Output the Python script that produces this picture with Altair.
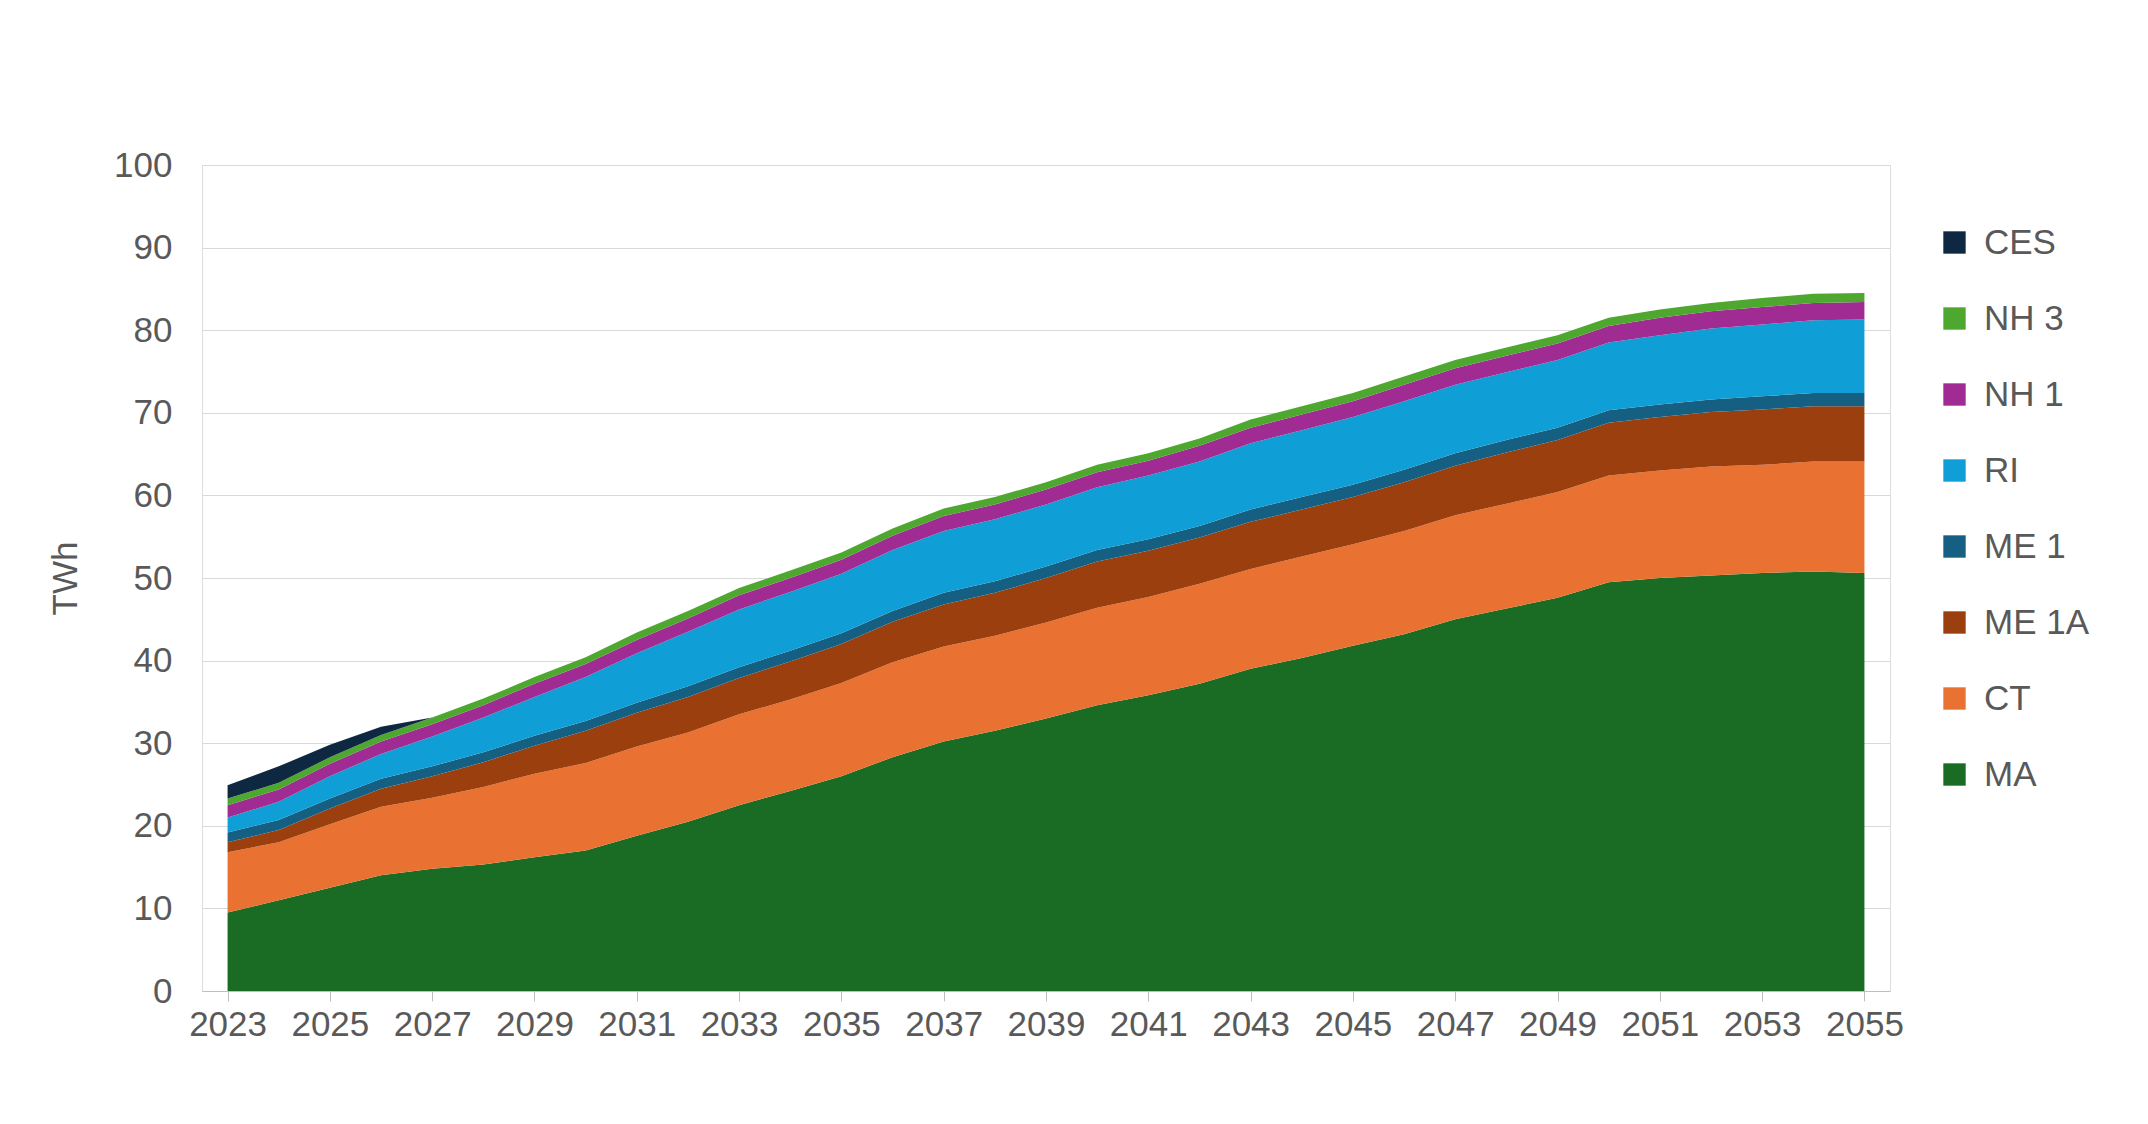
import pandas as pd
import altair as alt

years = list(range(2023, 2056))

ma = [9.5, 11, 12.5, 14, 14.8, 15.3, 16.2, 17, 18.8, 20.5, 22.5, 24.2, 26, 28.3, 30.2, 31.5, 33,
      34.6, 35.8, 37.2, 39, 40.3, 41.8, 43.2, 45, 46.3, 47.6, 49.5, 50, 50.3, 50.6, 50.8, 50.6]
ct = [7.3, 7, 7.7, 8.3, 8.6, 9.4, 10.1, 10.6, 10.8, 10.8, 11, 11.1, 11.3, 11.5, 11.5, 11.5, 11.6,
      11.8, 11.9, 12.1, 12.1, 12.3, 12.3, 12.5, 12.6, 12.7, 12.8, 12.9, 13, 13.2, 13.1, 13.3, 13.5]
me1a = [1.2, 1.5, 1.9, 2.2, 2.6, 3.0, 3.4, 3.9, 4.1, 4.3, 4.4, 4.6, 4.7, 4.9, 5.1, 5.2, 5.4,
        5.6, 5.6, 5.6, 5.7, 5.7, 5.7, 5.9, 6.0, 6.2, 6.3, 6.4, 6.5, 6.6, 6.7, 6.7, 6.7]
me1 = [1.2, 1.2, 1.2, 1.2, 1.2, 1.2, 1.2, 1.2, 1.2, 1.3, 1.3, 1.3, 1.3, 1.3, 1.4, 1.4, 1.4,
       1.4, 1.4, 1.4, 1.5, 1.5, 1.5, 1.5, 1.5, 1.5, 1.5, 1.5, 1.5, 1.5, 1.6, 1.6, 1.6]
ri = [1.8, 2.2, 2.7, 3.0, 3.6, 4.2, 4.7, 5.3, 6.0, 6.6, 7.0, 7.1, 7.2, 7.4, 7.5, 7.5, 7.5,
      7.6, 7.7, 7.8, 8.0, 8.1, 8.2, 8.3, 8.3, 8.2, 8.2, 8.2, 8.4, 8.6, 8.7, 8.8, 8.9]
nh1 = [1.5, 1.5, 1.5, 1.5, 1.5, 1.5, 1.6, 1.6, 1.6, 1.6, 1.7, 1.7, 1.7, 1.7, 1.8, 1.8, 1.8,
       1.8, 1.8, 1.9, 1.9, 1.9, 1.9, 2.0, 2.0, 2.0, 2.0, 2.0, 2.1, 2.1, 2.1, 2.1, 2.1]
nh3 = [0.8, 0.8, 0.8, 0.8, 0.8, 0.8, 0.8, 0.8, 0.9, 0.9, 0.9, 0.9, 0.9, 0.9, 0.9, 0.9, 0.9,
       0.9, 0.9, 0.9, 1.0, 1.0, 1.0, 1.0, 1.0, 1.0, 1.0, 1.0, 1.0, 1.0, 1.1, 1.1, 1.1]
ces = [1.6, 2.0, 1.5, 1.0] + [0] * 29

series = ["MA", "CT", "ME 1A", "ME 1", "RI", "NH 1", "NH 3", "CES"]
colors = ["#1a6b24", "#e97132", "#9c3f0e", "#156082", "#0f9ed5", "#a02b93", "#4ea72e", "#0e2841"]
values = [ma, ct, me1a, me1, ri, nh1, nh3, ces]

rows = []
for i, (name, vals) in enumerate(zip(series, values)):
    for y, v in zip(years, vals):
        rows.append({"year": y, "series": name, "twh": v, "order": i})
df = pd.DataFrame(rows)

chart = (
    alt.Chart(df)
    .mark_area()
    .encode(
        alt.X("year:Q", scale=alt.Scale(domain=[2022.5, 2055.5], nice=False, zero=False),
              axis=alt.Axis(values=list(range(2023, 2056, 2)), format="d", title=None, grid=False,
                            labelFontSize=35, labelColor="#595959", domainColor="#bfbfbf",
                            tickColor="#bfbfbf", tickSize=10, labelPadding=6, labelFlush=False)),
        alt.Y("twh:Q", stack="zero", scale=alt.Scale(domain=[0, 100], nice=False),
              axis=alt.Axis(values=list(range(0, 101, 10)), title="TWh", titleFontSize=35,
                            titleFontWeight="normal", titleColor="#595959", titlePadding=30,
                            labelFontSize=35, labelColor="#595959", gridColor="#d9d9d9",
                            domain=False, ticks=False, labelPadding=30)),
        alt.Color("series:N", scale=alt.Scale(domain=series[::-1], range=colors[::-1]),
                  legend=alt.Legend(title=None, orient="none", legendX=1735, legendY=60,
                                    symbolType="square", symbolSize=500, symbolStrokeWidth=0,
                                    labelFontSize=35, labelColor="#595959", rowPadding=40,
                                    labelOffset=12)),
        alt.Order("order:Q"),
    )
    .properties(width=1688, height=826, padding={"left": 40, "top": 140, "right": 20, "bottom": 40})
    .configure_view(stroke=None)
    .configure(font="Liberation Sans", background="white")
)

chart.save("out.html", embed_options={"renderer": "svg", "actions": False})
